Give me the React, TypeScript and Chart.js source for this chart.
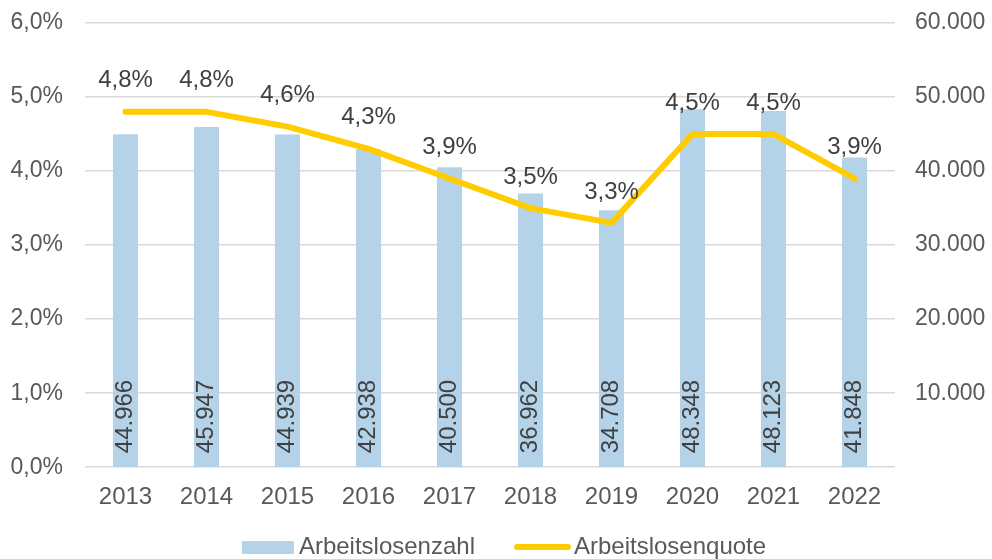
import React, { useEffect, useRef } from "react";
import { Chart, registerables } from "chart.js";

Chart.register(...registerables);

const years = ["2013", "2014", "2015", "2016", "2017", "2018", "2019", "2020", "2021", "2022"];
const arbeitslosenzahl = [44966, 45947, 44939, 42938, 40500, 36962, 34708, 48348, 48123, 41848];
const arbeitslosenquote = [4.8, 4.8, 4.6, 4.3, 3.9, 3.5, 3.3, 4.5, 4.5, 3.9];

const FONT = "'Liberation Sans', Arial, sans-serif";
const TICK_COLOR = "#595959";
const LABEL_COLOR = "#404040";
const BAR_COLOR = "#b4d3e8";
const LINE_COLOR = "#ffcc00";

const fmtThousands = (v: number) => {
  const s = Math.round(v).toString();
  return s.replace(/\B(?=(\d{3})+(?!\d))/g, ".");
};
const fmtPct = (v: number) => v.toFixed(1).replace(".", ",") + "%";

const labelPlugin = {
  id: "valueLabels",
  afterDatasetsDraw(chart: any) {
    const ctx = chart.ctx;
    ctx.save();
    ctx.font = `24px ${FONT}`;
    ctx.fillStyle = LABEL_COLOR;
    const barMeta = chart.getDatasetMeta(0);
    barMeta.data.forEach((el: any, i: number) => {
      ctx.save();
      ctx.translate(el.x, el.base - 14);
      ctx.rotate(-Math.PI / 2);
      ctx.textAlign = "left";
      ctx.textBaseline = "middle";
      ctx.fillText(fmtThousands(arbeitslosenzahl[i]), 0, 0);
      ctx.restore();
    });
    const lineMeta = chart.getDatasetMeta(1);
    lineMeta.data.forEach((el: any, i: number) => {
      ctx.textAlign = "center";
      ctx.textBaseline = "middle";
      ctx.fillText(fmtPct(arbeitslosenquote[i]), el.x, el.y - 31);
    });
    ctx.restore();
  },
};

const legendPlugin = {
  id: "customLegend",
  afterDraw(chart: any) {
    const ctx = chart.ctx;
    const labels = chart.data.datasets.map((d: any) => d.label as string);
    ctx.save();
    ctx.font = `24px ${FONT}`;
    const w1 = ctx.measureText(labels[0]).width;
    const w2 = ctx.measureText(labels[1]).width;
    const total = 52 + 5 + w1 + 39 + 57 + 3 + w2;
    let x = chart.width / 2 + 8 - total / 2;
    const y = 547;
    ctx.fillStyle = BAR_COLOR;
    ctx.fillRect(x, y - 6, 52, 13);
    x += 57;
    ctx.fillStyle = TICK_COLOR;
    ctx.textAlign = "left";
    ctx.textBaseline = "middle";
    ctx.fillText(labels[0], x, y);
    x += w1 + 39;
    ctx.strokeStyle = LINE_COLOR;
    ctx.lineWidth = 6;
    ctx.lineCap = "round";
    ctx.beginPath();
    ctx.moveTo(x + 3, y);
    ctx.lineTo(x + 54, y);
    ctx.stroke();
    x += 60;
    ctx.fillText(labels[1], x, y);
    ctx.restore();
  },
};

export default function App() {
  const ref = useRef<HTMLCanvasElement>(null);
  useEffect(() => {
    if (!ref.current) return;
    const chart = new Chart(ref.current, {
      type: "bar",
      data: {
        labels: years,
        datasets: [
          {
            type: "bar",
            label: "Arbeitslosenzahl",
            data: arbeitslosenzahl,
            backgroundColor: BAR_COLOR,
            borderWidth: 0,
            yAxisID: "y1",
            barPercentage: 0.31,
            categoryPercentage: 1,
            order: 1,
          },
          {
            type: "line",
            label: "Arbeitslosenquote",
            data: arbeitslosenquote,
            borderColor: LINE_COLOR,
            backgroundColor: LINE_COLOR,
            borderWidth: 6,
            pointRadius: 0,
            borderCapStyle: "round",
            borderJoinStyle: "round",
            tension: 0,
            yAxisID: "y",
            order: 0,
          } as any,
        ],
      },
      options: {
        animation: false,
        responsive: true,
        maintainAspectRatio: false,
        layout: { padding: { top: 23, left: 0, right: 0, bottom: 39 } },
        plugins: {
          tooltip: { enabled: false },
          legend: { display: false },
        },
        scales: {
          x: {
            grid: { display: false },
            border: { display: false },
            ticks: { color: TICK_COLOR, font: { family: FONT, size: 24 }, padding: 8 },
          },
          y: {
            position: "left",
            min: 0,
            max: 6,
            ticks: {
              stepSize: 1,
              color: TICK_COLOR,
              font: { family: FONT, size: 23 },
              padding: 22,
              callback: (v: any) => fmtPct(Number(v)),
            },
            grid: { color: "#d9d9d9", lineWidth: 1.5, drawTicks: false },
            border: { display: false },
            afterFit: (s: any) => {
              s.width = 85;
              s.paddingTop = 0;
              s.paddingBottom = 0;
            },
          },
          y1: {
            position: "right",
            min: 0,
            max: 60000,
            ticks: {
              stepSize: 10000,
              color: TICK_COLOR,
              font: { family: FONT, size: 23 },
              padding: 20,
              callback: (v: any) => (Number(v) === 0 ? "" : fmtThousands(Number(v))),
            },
            grid: { display: false, drawTicks: false },
            border: { display: false },
            afterFit: (s: any) => {
              s.width = 97;
              s.paddingTop = 0;
              s.paddingBottom = 0;
            },
          },
        },
      },
      plugins: [labelPlugin, legendPlugin],
    });
    return () => chart.destroy();
  }, []);
  return (
    <div style={{ position: "fixed", left: 0, top: 0, width: 992, height: 559, background: "#fff" }}>
      <canvas ref={ref} />
    </div>
  );
}
